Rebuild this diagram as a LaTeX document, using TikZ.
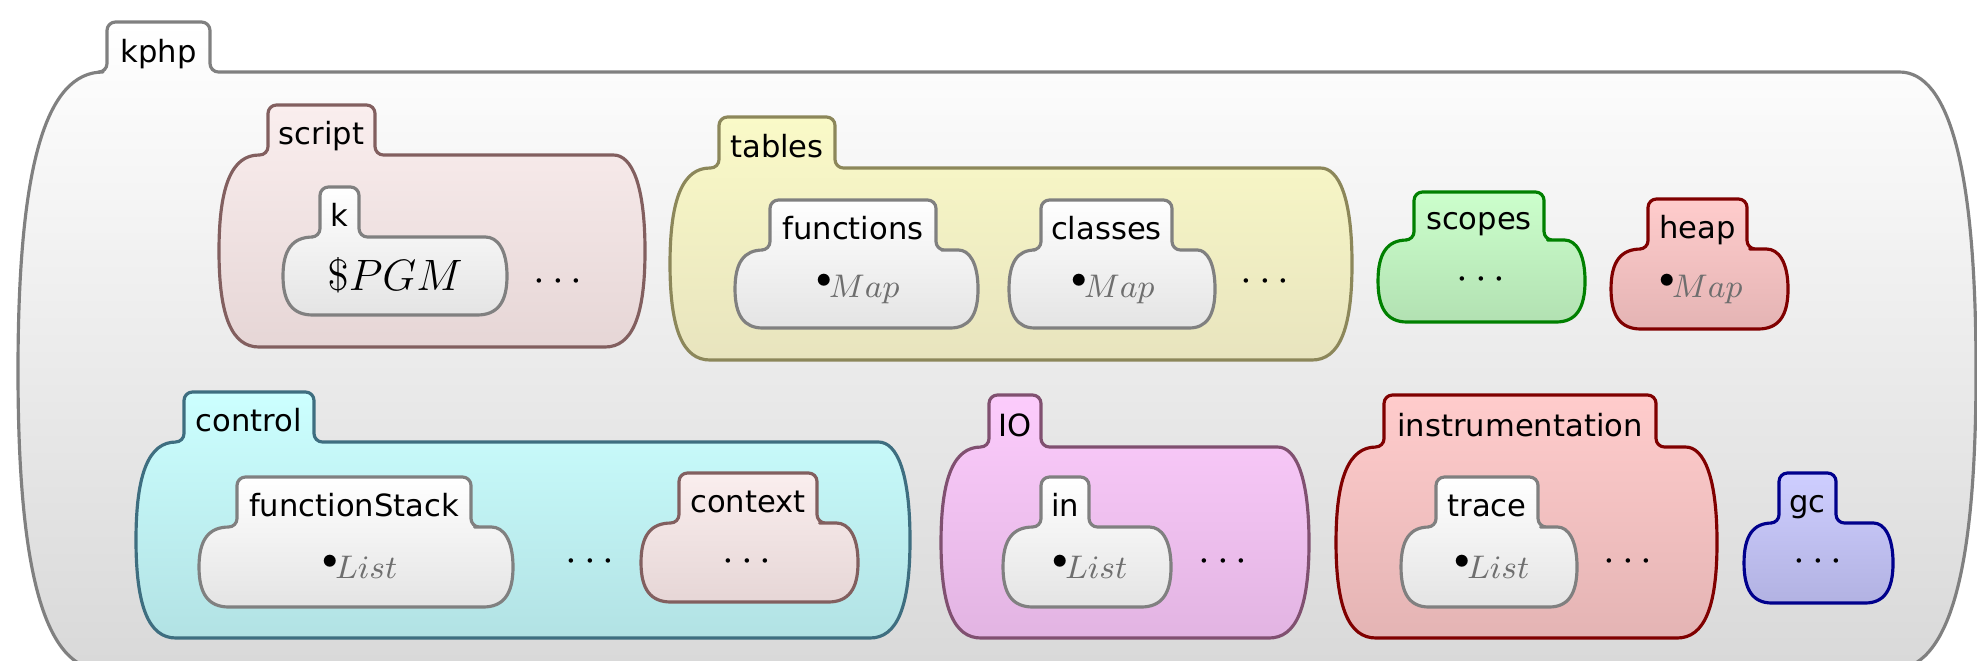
\RequirePackage{fix-cm}
\documentclass[tikz,border=0pt]{standalone}
\usepackage{fontspec}
\newfontfamily\lblfont{DejaVu Sans}

% stroke and gradient colours of the cells
\definecolor{grayline}{RGB}{128,128,128}
\definecolor{graybot}{RGB}{228,228,228}
\definecolor{scriptline}{RGB}{130,95,95}
\definecolor{scripttop}{RGB}{250,238,238}
\definecolor{scriptbot}{RGB}{230,214,214}
\definecolor{tablesline}{RGB}{140,135,90}
\definecolor{tablestop}{RGB}{250,250,200}
\definecolor{tablesbot}{RGB}{232,228,190}
\definecolor{scopesline}{RGB}{0,128,0}
\definecolor{scopestop}{RGB}{204,255,204}
\definecolor{scopesbot}{RGB}{178,225,178}
\definecolor{redline}{RGB}{128,0,0}
\definecolor{redtop}{RGB}{255,204,204}
\definecolor{redbot}{RGB}{228,180,180}
\definecolor{controlline}{RGB}{62,110,128}
\definecolor{controltop}{RGB}{204,255,255}
\definecolor{controlbot}{RGB}{178,226,228}
\definecolor{ioline}{RGB}{128,80,112}
\definecolor{iotop}{RGB}{252,204,252}
\definecolor{iobot}{RGB}{226,180,226}
\definecolor{gcline}{RGB}{0,0,140}
\definecolor{gctop}{RGB}{206,206,255}
\definecolor{gcbot}{RGB}{178,178,226}
\definecolor{sortgray}{RGB}{110,110,110}

\tikzset{
  cellline/.style={line width=0.9pt, line join=round},
  outercell/.style={cellline, draw=grayline, top color=white, bottom color=graybot!95!black},
  plaincell/.style={cellline, draw=grayline, top color=white, bottom color=graybot},
  scriptcell/.style={cellline, draw=scriptline, top color=scripttop, bottom color=scriptbot},
  tablescell/.style={cellline, draw=tablesline, top color=tablestop, bottom color=tablesbot},
  scopescell/.style={cellline, draw=scopesline, top color=scopestop, bottom color=scopesbot},
  redcell/.style={cellline, draw=redline, top color=redtop, bottom color=redbot},
  controlcell/.style={cellline, draw=controlline, top color=controltop, bottom color=controlbot},
  iocell/.style={cellline, draw=ioline, top color=iotop, bottom color=iobot},
  gccell/.style={cellline, draw=gcline, top color=gctop, bottom color=gcbot},
  lbl/.style={font=\lblfont\fontsize{8.7pt}{10pt}\selectfont, anchor=base, inner sep=0pt},
  sortval/.style={font=\fontsize{9.3pt}{11pt}\selectfont, anchor=base, inner sep=0pt},
  bigval/.style={font=\fontsize{12.5pt}{14pt}\selectfont, anchor=base, inner sep=0pt},
  etc/.style={font=\fontsize{12pt}{14pt}\selectfont, anchor=base, inner sep=0pt},
}

% a K cell: style, then tab left/right/top, body left/right/top/bottom, corner width;
% the sides of the body are two squarish quarter curves meeting at mid height
\def\kcell#1#2/#3/#4/#5/#6/#7/#8/#9\relax{%
  \pgfmathsetmacro\kry{0.5*(#8-#7)}%
  \pgfmathsetmacro\kqx{0.32*#9}%
  \pgfmathsetmacro\kqy{0.32*\kry}%
  \path[#1] (#5+#9,#7) [rounded corners=2.4pt] -- (#2,#7) -- (#2,#4) -- (#3,#4)
    -- (#3,#7) -- (#6-#9,#7) [sharp corners]
    .. controls (#6-\kqx,#7) and (#6,#7+\kqy) .. (#6,#7+\kry)
    .. controls (#6,#8-\kqy) and (#6-\kqx,#8) .. (#6-#9,#8)
    -- (#5+#9,#8)
    .. controls (#5+\kqx,#8) and (#5,#8-\kqy) .. (#5,#8-\kry)
    .. controls (#5,#7+\kqy) and (#5+\kqx,#7) .. (#5+#9,#7) -- cycle;%
}

\newcommand\kdot{\raisebox{2.8pt}{\fontsize{8.3pt}{9pt}\selectfont$\bullet$}\kern-0.9pt}
\newcommand\ksort[1]{\kdot\textcolor{sortgray}{$#1$}}

\begin{document}
\begin{tikzpicture}[x=0.01cm, y=-0.01cm]
  \useasboundingbox (0,0) rectangle (1977,660);
  \clip (0,0) rectangle (1977,660);
  \fill[white] (0,0) rectangle (1977,660);

  % outermost configuration cell
  \kcell{outercell}107/210/22/18/1976/72/670/85\relax
  \node[lbl] (kphp) at (158.5,62) {kphp};

  % script
  \kcell{scriptcell}268/375/105/219/645/155/347/40\relax
  \node[lbl] (script) at (321.5,144) {script};
  \kcell{plaincell}320/359/187/283/507/237/315/30\relax
  \node[lbl] (k) at (339.5,226) {k};
  \node[bigval] (pgm) at (395,290) {$\$PGM$};
  \node[etc] (scriptetc) at (558,291) {$\cdots$};

  % tables
  \kcell{tablescell}719/835/117/670/1352/168/360/40\relax
  \node[lbl] (tables) at (777,157) {tables};
  \kcell{plaincell}770/936/200/735/978/250/328/28\relax
  \node[lbl] (functions) at (853,239) {functions};
  \node[sortval] (functionsval) at (858,297) {\ksort{Map}};
  \kcell{plaincell}1041/1172/200/1009/1215/250/328/26\relax
  \node[lbl] (classes) at (1106.5,239) {classes};
  \node[sortval] (classesval) at (1113,297) {\ksort{Map}};
  \node[etc] (tablesetc) at (1265,291) {$\cdots$};

  % scopes and heap
  \kcell{scopescell}1414/1544/192/1378/1585/240/322/29\relax
  \node[lbl] (scopes) at (1479,229) {scopes};
  \node[etc] (scopesetc) at (1481,289) {$\cdots$};
  \kcell{redcell}1648/1747/199/1611/1788/249/329/30\relax
  \node[lbl] (heap) at (1697.5,238) {heap};
  \node[sortval] (heapval) at (1701,297) {\ksort{Map}};

  % control
  \kcell{controlcell}184/314/392/136/910/442/638/40\relax
  \node[lbl] (control) at (249,431) {control};
  \kcell{plaincell}237/471/477/199/513/527/607/30\relax
  \node[lbl] (functionStack) at (354,516) {functionStack};
  \node[sortval] (functionStackval) at (360,578) {\ksort{List}};
  \node[etc] (controletc) at (590,571) {$\cdots$};
  \kcell{scriptcell}679/817/473/641/858/523/602/30\relax
  \node[lbl] (context) at (748,512) {context};
  \node[etc] (contextetc) at (747,571) {$\cdots$};

  % IO
  \kcell{iocell}989/1041/395/941/1309/447/638/40\relax
  \node[lbl] (IO) at (1015,436) {IO};
  \kcell{plaincell}1041/1089/477/1003/1171/527/607/30\relax
  \node[lbl] (in) at (1065,516) {in};
  \node[sortval] (inval) at (1090,578) {\ksort{List}};
  \node[etc] (ioetc) at (1223,571) {$\cdots$};

  % instrumentation
  \kcell{redcell}1384/1656/395/1336/1717/447/638/40\relax
  \node[lbl] (instrumentation) at (1520,436) {instrumentation};
  \kcell{plaincell}1436/1538/477/1401/1577/527/607/28\relax
  \node[lbl] (trace) at (1487,516) {trace};
  \node[sortval] (traceval) at (1492,578) {\ksort{List}};
  \node[etc] (instretc) at (1628,571) {$\cdots$};

  % gc
  \kcell{gccell}1779/1836/473/1744/1893/523/603/28\relax
  \node[lbl] (gc) at (1807.5,512) {gc};
  \node[etc] (gcetc) at (1818,571) {$\cdots$};
\end{tikzpicture}
\end{document}
